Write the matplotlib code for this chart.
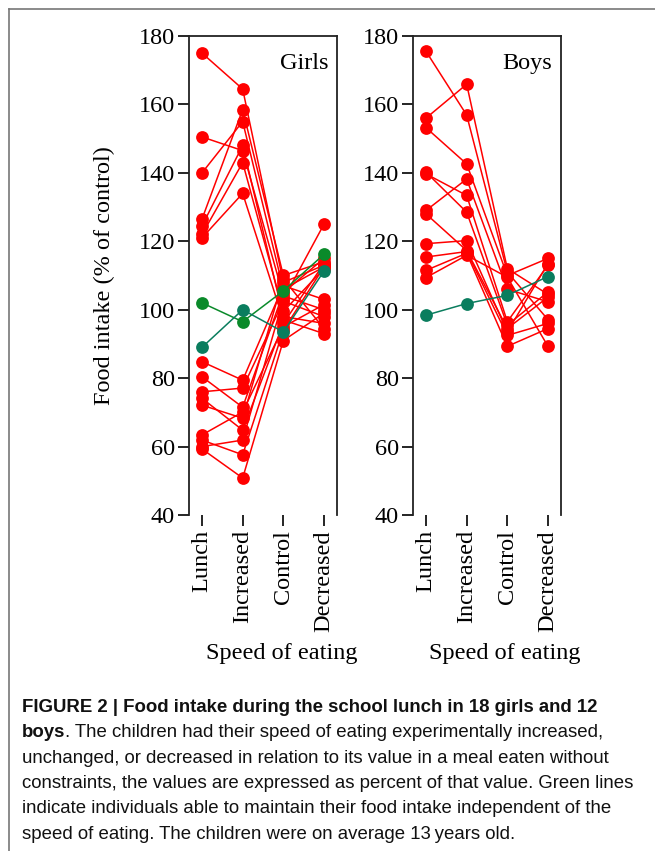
import matplotlib
matplotlib.use("Agg")
import matplotlib.pyplot as plt
from matplotlib.lines import Line2D

categories = ["Lunch", "Increased", "Control", "Decreased"]
yticks = [40, 60, 80, 100, 120, 140, 160, 180]

girls_red = [
    [175.0, 164.5, 108.0, 113.0],
    [150.5, 146.5, 104.0, 100.0],
    [140.0, 155.0, 106.0, 112.5],
    [126.5, 158.5, 110.0, 114.0],
    [124.5, 148.0, 98.0, 96.0],
    [122.0, 143.0, 99.5, 112.0],
    [121.0, 134.0, 97.0, 93.0],
    [84.8, 79.4, 107.0, 103.0],
    [80.4, 71.5, 105.0, 115.0],
    [76.0, 77.1, 102.5, 98.0],
    [74.1, 64.8, 96.0, 113.5],
    [72.1, 68.3, 109.0, 94.5],
    [63.4, 70.1, 95.0, 101.5],
    [61.9, 57.6, 94.0, 112.5],
    [60.0, 61.9, 103.0, 125.0],
    [59.3, 50.8, 91.0, 99.0],
]
girls_green = [
    [102.0, 96.5, 105.5, 116.2],
]
girls_teal = [
    [89.0, 100.0, 93.5, 111.3],
]

boys_red = [
    [175.5, 156.9, 111.0, 97.1],
    [156.0, 165.9, 112.0, 104.5],
    [153.2, 142.6, 110.0, 115.0],
    [139.7, 133.4, 96.5, 113.0],
    [140.2, 128.5, 95.5, 105.2],
    [129.0, 138.2, 106.0, 102.3],
    [128.0, 117.3, 94.5, 103.7],
    [119.3, 120.2, 93.5, 113.5],
    [115.4, 117.0, 92.5, 96.0],
    [111.5, 116.5, 89.3, 94.5],
    [109.4, 115.9, 109.5, 89.3],
]
boys_green = []
boys_teal = [
    [98.4, 101.8, 104.2, 109.7],
]

RED = "#ff0000"
GREEN = "#0a8a2a"
TEAL = "#0a7d5e"
SERIF = ["Liberation Serif", "DejaVu Serif"]
SANS = ["Liberation Sans", "DejaVu Sans"]
FS = 17.5

W, H = 655, 851
fig = plt.figure(figsize=(W / 100, H / 100), dpi=100)


def fx(px):
    return px / W


def fy(py):
    return 1 - py / H


def draw_panel(left, right, name, red, green, teal, ylabel):
    top, bottom = 36, 515
    ax = fig.add_axes([fx(left), fy(bottom), fx(right - left), (bottom - top) / H])
    xs = list(range(len(categories)))
    for rows, col in ((red, RED), (green, GREEN), (teal, TEAL)):
        for r in rows:
            ax.plot(xs, r, color=col, lw=1.1, marker="o", ms=9.2,
                    markeredgewidth=0, zorder=3, clip_on=False)
    ax.set_xlim(-0.32, 3.32)
    ax.set_ylim(40, 180)
    ax.set_yticks(yticks)
    ax.set_yticklabels([str(v) for v in yticks], fontfamily=SERIF, fontsize=FS)
    ax.set_xticks(xs)
    ax.set_xticklabels(categories, rotation=90, fontfamily=SERIF, fontsize=FS)
    ax.tick_params(axis="y", direction="out", length=8, width=1.2, pad=2)
    ax.tick_params(axis="x", direction="out", length=8, width=1.2, pad=3)
    for s in ax.spines.values():
        s.set_linewidth(1.3)
        s.set_color("#222222")
    ax.spines["bottom"].set_visible(False)
    ax.text(0.94, 0.965, name, transform=ax.transAxes, ha="right", va="top",
            fontfamily=SERIF, fontsize=FS)
    if ylabel:
        ax.set_ylabel("Food intake (% of control)", fontfamily=SERIF,
                      fontsize=FS, labelpad=17)
    return ax


axg = draw_panel(189, 337, "Girls", girls_red, girls_green, girls_teal, True)
axb = draw_panel(413, 561, "Boys", boys_red, boys_green, boys_teal, False)

fig.text(fx(282), fy(654), "Speed of eating", ha="center", va="center",
         fontfamily=SERIF, fontsize=FS)
fig.text(fx(505), fy(654), "Speed of eating", ha="center", va="center",
         fontfamily=SERIF, fontsize=FS)

# frame lines
fig.add_artist(Line2D([fx(9), 1.0], [fy(9), fy(9)], color="#777777", lw=1.2))
fig.add_artist(Line2D([fx(9), fx(9)], [fy(9), 0.0], color="#777777", lw=1.2))

# caption
cap_fs = 13.4
x0 = fx(22)
bases = [712, 737, 763, 788, 813, 839]
CAPC = "#111111"
fig.text(x0, fy(bases[0]), "FIGURE 2 | Food intake during the school lunch in 18 girls and 12",
         fontfamily=SANS, fontweight="bold", fontsize=cap_fs, va="baseline", color=CAPC)
tb = fig.text(x0, fy(bases[1]), "boys", fontfamily=SANS, fontweight="bold",
              fontsize=cap_fs, va="baseline", color=CAPC)
fig.canvas.draw()
r = fig.canvas.get_renderer()
bb = tb.get_window_extent(r)
fig.text(bb.x1 / W, fy(bases[1]),
         ". The children had their speed of eating experimentally increased,",
         fontfamily=SANS, fontsize=cap_fs, va="baseline", color=CAPC)
rest = [
    "unchanged, or decreased in relation to its value in a meal eaten without",
    "constraints, the values are expressed as percent of that value. Green lines",
    "indicate individuals able to maintain their food intake independent of the",
    "speed of eating. The children were on average 13\u2009years old.",
]
for b, t in zip(bases[2:], rest):
    fig.text(x0, fy(b), t, fontfamily=SANS, fontsize=cap_fs, va="baseline",
             color=CAPC)

fig.savefig("out.png", dpi=100)
